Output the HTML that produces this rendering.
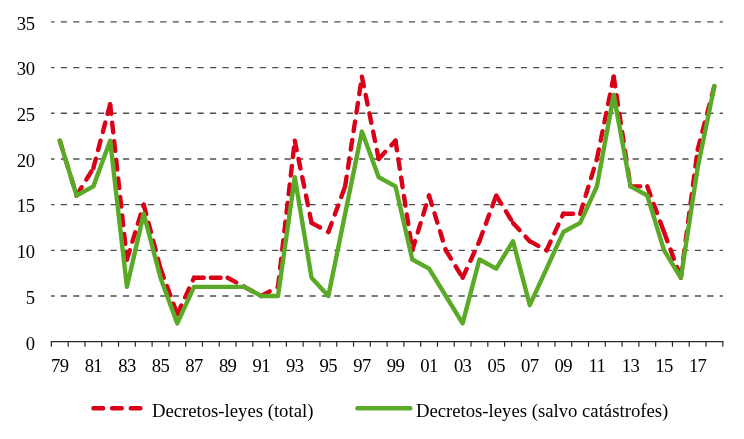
<!DOCTYPE html><html><head><meta charset="utf-8"><title>Decretos-leyes</title><style>html,body{margin:0;padding:0;background:#fff}svg{display:block}text{font-family:"Liberation Serif","Times New Roman",serif;font-size:18.67px;fill:#000}</style></head><body>
<svg width="744" height="439" viewBox="0 0 744 439">
<rect width="744" height="439" fill="#fff"/>
<line x1="51.05" y1="296.01" x2="722.90" y2="296.01" stroke="#4e4e4e" stroke-width="1.4" stroke-dasharray="6.2 6.232" stroke-dashoffset="2.7"/>
<line x1="51.05" y1="250.33" x2="722.90" y2="250.33" stroke="#4e4e4e" stroke-width="1.4" stroke-dasharray="6.2 6.232" stroke-dashoffset="2.7"/>
<line x1="51.05" y1="204.64" x2="722.90" y2="204.64" stroke="#4e4e4e" stroke-width="1.4" stroke-dasharray="6.2 6.232" stroke-dashoffset="2.7"/>
<line x1="51.05" y1="158.96" x2="722.90" y2="158.96" stroke="#4e4e4e" stroke-width="1.4" stroke-dasharray="6.2 6.232" stroke-dashoffset="2.7"/>
<line x1="51.05" y1="113.27" x2="722.90" y2="113.27" stroke="#4e4e4e" stroke-width="1.4" stroke-dasharray="6.2 6.232" stroke-dashoffset="2.7"/>
<line x1="51.05" y1="67.59" x2="722.90" y2="67.59" stroke="#4e4e4e" stroke-width="1.4" stroke-dasharray="6.2 6.232" stroke-dashoffset="2.7"/>
<line x1="51.05" y1="21.90" x2="722.90" y2="21.90" stroke="#4e4e4e" stroke-width="1.4" stroke-dasharray="6.2 6.232" stroke-dashoffset="2.7"/>
<text x="34.5" y="349.50" text-anchor="end" style="letter-spacing:-0.5px">0</text>
<text x="34.5" y="303.81" text-anchor="end" style="letter-spacing:-0.5px">5</text>
<text x="34.5" y="258.13" text-anchor="end" style="letter-spacing:-0.5px">10</text>
<text x="34.5" y="212.44" text-anchor="end" style="letter-spacing:-0.5px">15</text>
<text x="34.5" y="166.76" text-anchor="end" style="letter-spacing:-0.5px">20</text>
<text x="34.5" y="121.07" text-anchor="end" style="letter-spacing:-0.5px">25</text>
<text x="34.5" y="75.39" text-anchor="end" style="letter-spacing:-0.5px">30</text>
<text x="34.5" y="29.70" text-anchor="end" style="letter-spacing:-0.5px">35</text>
<line x1="50.75" y1="341.70" x2="723.45" y2="341.70" stroke="#2a2a2a" stroke-width="1.2"/>
<line x1="51.40" y1="341.70" x2="51.40" y2="346.80" stroke="#2a2a2a" stroke-width="1.2"/>
<line x1="68.19" y1="341.70" x2="68.19" y2="346.80" stroke="#2a2a2a" stroke-width="1.2"/>
<line x1="84.97" y1="341.70" x2="84.97" y2="346.80" stroke="#2a2a2a" stroke-width="1.2"/>
<line x1="101.75" y1="341.70" x2="101.75" y2="346.80" stroke="#2a2a2a" stroke-width="1.2"/>
<line x1="118.54" y1="341.70" x2="118.54" y2="346.80" stroke="#2a2a2a" stroke-width="1.2"/>
<line x1="135.32" y1="341.70" x2="135.32" y2="346.80" stroke="#2a2a2a" stroke-width="1.2"/>
<line x1="152.11" y1="341.70" x2="152.11" y2="346.80" stroke="#2a2a2a" stroke-width="1.2"/>
<line x1="168.90" y1="341.70" x2="168.90" y2="346.80" stroke="#2a2a2a" stroke-width="1.2"/>
<line x1="185.68" y1="341.70" x2="185.68" y2="346.80" stroke="#2a2a2a" stroke-width="1.2"/>
<line x1="202.47" y1="341.70" x2="202.47" y2="346.80" stroke="#2a2a2a" stroke-width="1.2"/>
<line x1="219.25" y1="341.70" x2="219.25" y2="346.80" stroke="#2a2a2a" stroke-width="1.2"/>
<line x1="236.03" y1="341.70" x2="236.03" y2="346.80" stroke="#2a2a2a" stroke-width="1.2"/>
<line x1="252.82" y1="341.70" x2="252.82" y2="346.80" stroke="#2a2a2a" stroke-width="1.2"/>
<line x1="269.61" y1="341.70" x2="269.61" y2="346.80" stroke="#2a2a2a" stroke-width="1.2"/>
<line x1="286.39" y1="341.70" x2="286.39" y2="346.80" stroke="#2a2a2a" stroke-width="1.2"/>
<line x1="303.18" y1="341.70" x2="303.18" y2="346.80" stroke="#2a2a2a" stroke-width="1.2"/>
<line x1="319.96" y1="341.70" x2="319.96" y2="346.80" stroke="#2a2a2a" stroke-width="1.2"/>
<line x1="336.75" y1="341.70" x2="336.75" y2="346.80" stroke="#2a2a2a" stroke-width="1.2"/>
<line x1="353.53" y1="341.70" x2="353.53" y2="346.80" stroke="#2a2a2a" stroke-width="1.2"/>
<line x1="370.31" y1="341.70" x2="370.31" y2="346.80" stroke="#2a2a2a" stroke-width="1.2"/>
<line x1="387.10" y1="341.70" x2="387.10" y2="346.80" stroke="#2a2a2a" stroke-width="1.2"/>
<line x1="403.88" y1="341.70" x2="403.88" y2="346.80" stroke="#2a2a2a" stroke-width="1.2"/>
<line x1="420.67" y1="341.70" x2="420.67" y2="346.80" stroke="#2a2a2a" stroke-width="1.2"/>
<line x1="437.45" y1="341.70" x2="437.45" y2="346.80" stroke="#2a2a2a" stroke-width="1.2"/>
<line x1="454.24" y1="341.70" x2="454.24" y2="346.80" stroke="#2a2a2a" stroke-width="1.2"/>
<line x1="471.02" y1="341.70" x2="471.02" y2="346.80" stroke="#2a2a2a" stroke-width="1.2"/>
<line x1="487.81" y1="341.70" x2="487.81" y2="346.80" stroke="#2a2a2a" stroke-width="1.2"/>
<line x1="504.59" y1="341.70" x2="504.59" y2="346.80" stroke="#2a2a2a" stroke-width="1.2"/>
<line x1="521.38" y1="341.70" x2="521.38" y2="346.80" stroke="#2a2a2a" stroke-width="1.2"/>
<line x1="538.16" y1="341.70" x2="538.16" y2="346.80" stroke="#2a2a2a" stroke-width="1.2"/>
<line x1="554.95" y1="341.70" x2="554.95" y2="346.80" stroke="#2a2a2a" stroke-width="1.2"/>
<line x1="571.74" y1="341.70" x2="571.74" y2="346.80" stroke="#2a2a2a" stroke-width="1.2"/>
<line x1="588.52" y1="341.70" x2="588.52" y2="346.80" stroke="#2a2a2a" stroke-width="1.2"/>
<line x1="605.30" y1="341.70" x2="605.30" y2="346.80" stroke="#2a2a2a" stroke-width="1.2"/>
<line x1="622.09" y1="341.70" x2="622.09" y2="346.80" stroke="#2a2a2a" stroke-width="1.2"/>
<line x1="638.88" y1="341.70" x2="638.88" y2="346.80" stroke="#2a2a2a" stroke-width="1.2"/>
<line x1="655.66" y1="341.70" x2="655.66" y2="346.80" stroke="#2a2a2a" stroke-width="1.2"/>
<line x1="672.44" y1="341.70" x2="672.44" y2="346.80" stroke="#2a2a2a" stroke-width="1.2"/>
<line x1="689.23" y1="341.70" x2="689.23" y2="346.80" stroke="#2a2a2a" stroke-width="1.2"/>
<line x1="706.01" y1="341.70" x2="706.01" y2="346.80" stroke="#2a2a2a" stroke-width="1.2"/>
<line x1="722.80" y1="341.70" x2="722.80" y2="346.80" stroke="#2a2a2a" stroke-width="1.2"/>
<text x="59.79" y="372" text-anchor="middle" style="letter-spacing:-0.6px">79</text>
<text x="93.36" y="372" text-anchor="middle" style="letter-spacing:-0.6px">81</text>
<text x="126.93" y="372" text-anchor="middle" style="letter-spacing:-0.6px">83</text>
<text x="160.50" y="372" text-anchor="middle" style="letter-spacing:-0.6px">85</text>
<text x="194.07" y="372" text-anchor="middle" style="letter-spacing:-0.6px">87</text>
<text x="227.64" y="372" text-anchor="middle" style="letter-spacing:-0.6px">89</text>
<text x="261.21" y="372" text-anchor="middle" style="letter-spacing:-0.6px">91</text>
<text x="294.78" y="372" text-anchor="middle" style="letter-spacing:-0.6px">93</text>
<text x="328.35" y="372" text-anchor="middle" style="letter-spacing:-0.6px">95</text>
<text x="361.92" y="372" text-anchor="middle" style="letter-spacing:-0.6px">97</text>
<text x="395.49" y="372" text-anchor="middle" style="letter-spacing:-0.6px">99</text>
<text x="429.06" y="372" text-anchor="middle" style="letter-spacing:-0.6px">01</text>
<text x="462.63" y="372" text-anchor="middle" style="letter-spacing:-0.6px">03</text>
<text x="496.20" y="372" text-anchor="middle" style="letter-spacing:-0.6px">05</text>
<text x="529.77" y="372" text-anchor="middle" style="letter-spacing:-0.6px">07</text>
<text x="563.34" y="372" text-anchor="middle" style="letter-spacing:-0.6px">09</text>
<text x="596.91" y="372" text-anchor="middle" style="letter-spacing:-0.6px">11</text>
<text x="630.48" y="372" text-anchor="middle" style="letter-spacing:-0.6px">13</text>
<text x="664.05" y="372" text-anchor="middle" style="letter-spacing:-0.6px">15</text>
<text x="697.62" y="372" text-anchor="middle" style="letter-spacing:-0.6px">17</text>
<line x1="59.79" y1="140.68" x2="76.58" y2="195.51" stroke="#d90018" stroke-width="4.4" stroke-dasharray="9.7 8.97" stroke-linecap="round"/>
<line x1="76.58" y1="195.51" x2="93.36" y2="168.09" stroke="#d90018" stroke-width="4.4" stroke-dasharray="9.7 8.97" stroke-linecap="round"/>
<line x1="93.36" y1="168.09" x2="110.15" y2="104.13" stroke="#d90018" stroke-width="4.4" stroke-dasharray="9.7 8.97" stroke-linecap="round"/>
<line x1="110.15" y1="104.13" x2="126.93" y2="259.47" stroke="#d90018" stroke-width="4.4" stroke-dasharray="9.7 8.97" stroke-linecap="round"/>
<line x1="126.93" y1="259.47" x2="143.72" y2="204.64" stroke="#d90018" stroke-width="4.4" stroke-dasharray="9.7 8.97" stroke-linecap="round"/>
<line x1="143.72" y1="204.64" x2="160.50" y2="268.60" stroke="#d90018" stroke-width="4.4" stroke-dasharray="9.7 8.97" stroke-linecap="round"/>
<line x1="160.50" y1="268.60" x2="177.29" y2="314.29" stroke="#d90018" stroke-width="4.4" stroke-dasharray="9.7 8.97" stroke-linecap="round"/>
<line x1="177.29" y1="314.29" x2="194.07" y2="277.74" stroke="#d90018" stroke-width="4.4" stroke-dasharray="9.7 8.97" stroke-linecap="round"/>
<line x1="194.07" y1="277.74" x2="210.86" y2="277.74" stroke="#d90018" stroke-width="4.4" stroke-dasharray="9.7 8.97" stroke-linecap="round"/>
<line x1="210.86" y1="277.74" x2="227.64" y2="277.74" stroke="#d90018" stroke-width="4.4" stroke-dasharray="9.7 8.97" stroke-linecap="round"/>
<line x1="227.64" y1="277.74" x2="244.43" y2="286.88" stroke="#d90018" stroke-width="4.4" stroke-dasharray="9.7 8.97" stroke-linecap="round"/>
<line x1="244.43" y1="286.88" x2="261.21" y2="296.01" stroke="#d90018" stroke-width="4.4" stroke-dasharray="9.7 8.97" stroke-linecap="round"/>
<line x1="261.21" y1="296.01" x2="278.00" y2="286.88" stroke="#d90018" stroke-width="4.4" stroke-dasharray="9.7 8.97" stroke-linecap="round"/>
<line x1="278.00" y1="286.88" x2="294.78" y2="140.68" stroke="#d90018" stroke-width="4.4" stroke-dasharray="9.7 8.97" stroke-linecap="round"/>
<line x1="294.78" y1="140.68" x2="311.57" y2="222.92" stroke="#d90018" stroke-width="4.4" stroke-dasharray="9.7 8.97" stroke-linecap="round"/>
<line x1="311.57" y1="222.92" x2="328.35" y2="232.05" stroke="#d90018" stroke-width="4.4" stroke-dasharray="9.7 8.97" stroke-linecap="round"/>
<line x1="328.35" y1="232.05" x2="345.14" y2="186.37" stroke="#d90018" stroke-width="4.4" stroke-dasharray="9.7 8.97" stroke-linecap="round"/>
<line x1="345.14" y1="186.37" x2="361.92" y2="76.72" stroke="#d90018" stroke-width="4.4" stroke-dasharray="9.7 8.97" stroke-linecap="round"/>
<line x1="361.92" y1="76.72" x2="378.71" y2="158.96" stroke="#d90018" stroke-width="4.4" stroke-dasharray="9.7 8.97" stroke-linecap="round"/>
<line x1="378.71" y1="158.96" x2="395.49" y2="140.68" stroke="#d90018" stroke-width="4.4" stroke-dasharray="9.7 8.97" stroke-linecap="round"/>
<line x1="395.49" y1="140.68" x2="412.28" y2="250.33" stroke="#d90018" stroke-width="4.4" stroke-dasharray="9.7 8.97" stroke-linecap="round"/>
<line x1="412.28" y1="250.33" x2="429.06" y2="195.51" stroke="#d90018" stroke-width="4.4" stroke-dasharray="9.7 8.97" stroke-linecap="round"/>
<line x1="429.06" y1="195.51" x2="445.85" y2="250.33" stroke="#d90018" stroke-width="4.4" stroke-dasharray="9.7 8.97" stroke-linecap="round"/>
<line x1="445.85" y1="250.33" x2="462.63" y2="277.74" stroke="#d90018" stroke-width="4.4" stroke-dasharray="9.7 8.97" stroke-linecap="round"/>
<line x1="462.63" y1="277.74" x2="479.42" y2="241.19" stroke="#d90018" stroke-width="4.4" stroke-dasharray="9.7 8.97" stroke-linecap="round"/>
<line x1="479.42" y1="241.19" x2="496.20" y2="195.51" stroke="#d90018" stroke-width="4.4" stroke-dasharray="9.7 8.97" stroke-linecap="round"/>
<line x1="496.20" y1="195.51" x2="512.99" y2="222.92" stroke="#d90018" stroke-width="4.4" stroke-dasharray="9.7 8.97" stroke-linecap="round"/>
<line x1="512.99" y1="222.92" x2="529.77" y2="241.19" stroke="#d90018" stroke-width="4.4" stroke-dasharray="9.7 8.97" stroke-linecap="round"/>
<line x1="529.77" y1="241.19" x2="546.56" y2="250.33" stroke="#d90018" stroke-width="4.4" stroke-dasharray="9.7 8.97" stroke-linecap="round"/>
<line x1="546.56" y1="250.33" x2="563.34" y2="213.78" stroke="#d90018" stroke-width="4.4" stroke-dasharray="9.7 8.97" stroke-linecap="round"/>
<line x1="563.34" y1="213.78" x2="580.13" y2="213.78" stroke="#d90018" stroke-width="4.4" stroke-dasharray="9.7 8.97" stroke-linecap="round"/>
<line x1="580.13" y1="213.78" x2="596.91" y2="158.96" stroke="#d90018" stroke-width="4.4" stroke-dasharray="9.7 8.97" stroke-linecap="round"/>
<line x1="596.91" y1="158.96" x2="613.70" y2="76.72" stroke="#d90018" stroke-width="4.4" stroke-dasharray="9.7 8.97" stroke-linecap="round"/>
<line x1="613.70" y1="76.72" x2="630.48" y2="186.37" stroke="#d90018" stroke-width="4.4" stroke-dasharray="9.7 8.97" stroke-linecap="round"/>
<line x1="630.48" y1="186.37" x2="647.27" y2="186.37" stroke="#d90018" stroke-width="4.4" stroke-dasharray="9.7 8.97" stroke-linecap="round"/>
<line x1="647.27" y1="186.37" x2="664.05" y2="232.05" stroke="#d90018" stroke-width="4.4" stroke-dasharray="9.7 8.97" stroke-linecap="round"/>
<line x1="664.05" y1="232.05" x2="680.84" y2="277.74" stroke="#d90018" stroke-width="4.4" stroke-dasharray="9.7 8.97" stroke-linecap="round"/>
<line x1="680.84" y1="277.74" x2="697.62" y2="149.82" stroke="#d90018" stroke-width="4.4" stroke-dasharray="9.7 8.97" stroke-linecap="round"/>
<line x1="697.62" y1="149.82" x2="714.41" y2="85.86" stroke="#d90018" stroke-width="4.4" stroke-dasharray="9.7 8.97" stroke-linecap="round"/>
<polyline points="59.79,140.68 76.58,195.51 93.36,186.37 110.15,140.68 126.93,286.88 143.72,213.78 160.50,277.74 177.29,323.43 194.07,286.88 210.86,286.88 227.64,286.88 244.43,286.88 261.21,296.01 278.00,296.01 294.78,177.23 311.57,277.74 328.35,296.01 345.14,213.78 361.92,131.55 378.71,177.23 395.49,186.37 412.28,259.47 429.06,268.60 445.85,296.01 462.63,323.43 479.42,259.47 496.20,268.60 512.99,241.19 529.77,305.15 546.56,268.60 563.34,232.05 580.13,222.92 596.91,186.37 613.70,95.00 630.48,186.37 647.27,195.51 664.05,250.33 680.84,277.74 697.62,168.09 714.41,85.86" fill="none" stroke="#5aaa28" stroke-width="4.4" stroke-linecap="round" stroke-linejoin="round"/>
<line x1="93.4" y1="408.3" x2="141.2" y2="408.3" stroke="#d90018" stroke-width="4.4" stroke-dasharray="9.7 8.97" stroke-linecap="round"/>
<text x="151.9" y="417" style="font-size:18.72px">Decretos-leyes (total)</text>
<line x1="357.4" y1="408.3" x2="410.3" y2="408.3" stroke="#5aaa28" stroke-width="4.4" stroke-linecap="round"/>
<text x="415.9" y="417" style="font-size:18.72px">Decretos-leyes (salvo catástrofes)</text>
</svg></body></html>
